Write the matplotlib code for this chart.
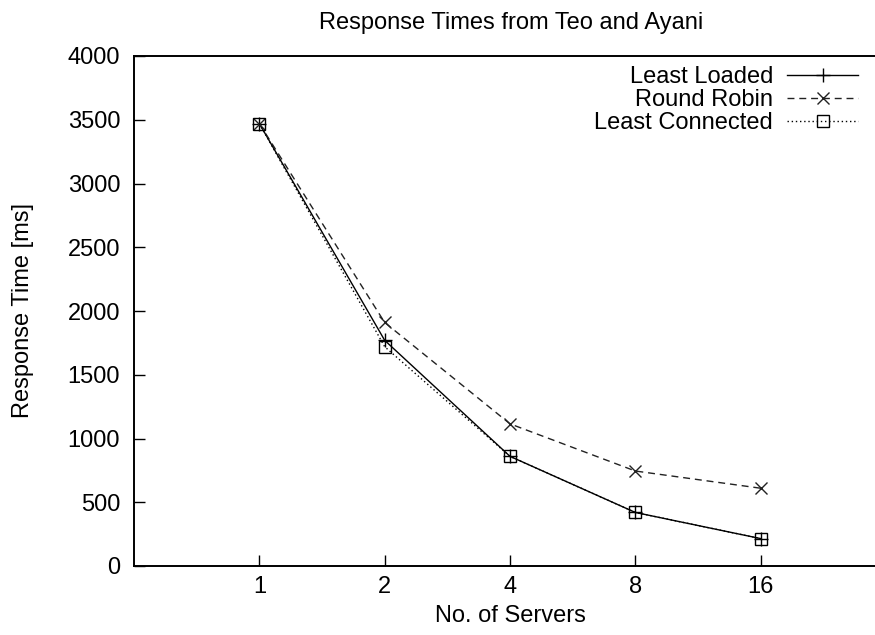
import matplotlib
matplotlib.use("Agg")
import matplotlib.pyplot as plt

servers = ["1", "2", "4", "8", "16"]
least_loaded = [3470, 1770, 860, 420, 215]
round_robin = [3470, 1910, 1115, 745, 610]
least_connected = [3470, 1720, 860, 420, 215]

plt.rcParams["font.family"] = ["Liberation Sans", "DejaVu Sans"]
FS = 17

fig = plt.figure(figsize=(8.75, 6.35), dpi=100)
# right spine sits just past the right edge of the picture
ax = fig.add_axes([134 / 875, 1 - 566 / 635, 752 / 875, 510 / 635])

pos = list(range(1, len(servers) + 1))
ax.plot(pos, least_loaded, color="black", lw=1, ls="-", marker="+", ms=10, mew=1,
        label="Least Loaded")
ax.plot(pos, round_robin, color="#222222", lw=1, ls=(0, (5, 3.5)), marker="x", ms=9, mew=1,
        label="Round Robin")
ax.plot(pos, least_connected, color="black", lw=1, ls=(0, (1, 2)), marker="s", ms=9, mew=1,
        mfc="none", label="Least Connected")

ax.set_xlim(0, 6)
ax.set_ylim(0, 4000)
ax.set_xticks(pos)
ax.set_xticklabels(servers)
ax.set_yticks(range(0, 4001, 500))
ax.tick_params(direction="in", length=8, width=1, labelsize=FS, pad=10, colors="black")
ax.tick_params(axis="x", pad=7)
for side in ["left", "bottom", "top"]:
    ax.spines[side].set_linewidth(1.4)
ax.spines["right"].set_visible(False)

ax.set_xlabel("No. of Servers", fontsize=FS, labelpad=5)
ax.set_ylabel("Response Time [ms]", fontsize=FS, labelpad=24)
fig.text(511 / 875, 1 - 23 / 635, "Response Times from Teo and Ayani",
         fontsize=FS, ha="center", va="center")

ax.legend(loc="upper right", bbox_to_anchor=(858 / 875, 1 - 66 / 635),
          bbox_transform=fig.transFigure, frameon=False, markerfirst=False,
          fontsize=FS, handlelength=3.0, handletextpad=0.6, labelspacing=0.05,
          borderaxespad=0, borderpad=0)

fig.savefig("out.png", dpi=100)
